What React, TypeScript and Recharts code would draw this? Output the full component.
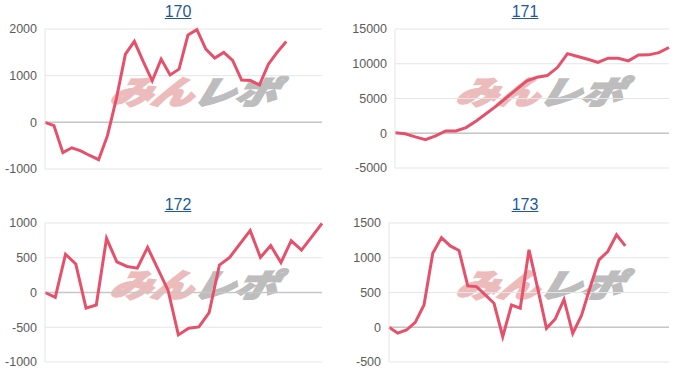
import React from 'react';
import { LineChart, Line, XAxis, YAxis, CartesianGrid, ReferenceLine } from 'recharts';

// coin difference per game step
const machines = ['170', '171', '172', '173'];

const diff170 = [
  0, -70, -650, -545, -610, -710, -800, -280, 520, 1460, 1735, 1300, 890, 1355,
  1015, 1140, 1870, 1985, 1570, 1376, 1497, 1325, 905, 895, 800, 1247, 1505, 1733,
];
const diff171 = [
  80, -80, -530, -930, -380, 330, 330, 810, 1770, 2830, 3930, 5140, 6340, 7530,
  8050, 8300, 9450, 11450, 11040, 10650, 10180, 10800, 10800, 10410, 11250, 11280,
  11600, 12340,
];
const diff172 = [
  0, -70, 550, 410, -225, -180, 780, 440, 375, 350, 650, 340, 30, -610, -515,
  -495, -290, 395, 505, 700, 890, 505, 675, 430, 745, 610, 800, 995,
];
const diff173 = [
  0, -85, -40, 70, 320, 1065, 1290, 1170, 1105, 595, 585, 465, 345, -135, 320,
  275, 1115, 555, -15, 120, 400, -90, 170, 580, 970, 1090, 1330, 1170,
];

const ticks170 = [-1000, 0, 1000, 2000];
const ticks171 = [-5000, 0, 5000, 10000, 15000];
const ticks172 = [-1000, -500, 0, 500, 1000];
const ticks173 = [-500, 0, 500, 1000, 1500];

// last x slot of each graph (some graphs leave room on the right)
const xMax = [31, 27, 27, 32];

type PanelProps = {
  title: string;
  values: number[];
  ticks: number[];
  maxX: number;
  left: number;
  top: number;
  width: number;
  height: number;
  axisW: number;
  margin: { top: number; right: number; bottom: number; left: number };
  titleX: number;
  titleY: number;
  wmX: number;
  wmY: number;
};

function Panel(p: PanelProps) {
  const data = p.values.map((v, i) => ({ i, v }));
  return (
    <div style={{ position: 'absolute', left: p.left, top: p.top, width: p.width, height: p.height }}>
      <a
        href="#"
        style={{
          position: 'absolute',
          left: p.titleX - 30,
          width: 60,
          top: p.titleY - 10,
          textAlign: 'center',
          color: '#1d5a98',
          fontFamily: 'Liberation Sans, Arial, sans-serif',
          fontSize: 16,
          lineHeight: '20px',
          textDecoration: 'underline',
        }}
      >
        {p.title}
      </a>
      <div
        style={{
          position: 'absolute',
          left: p.wmX - 83,
          top: p.wmY - 20,
          width: 128,
          fontFamily: 'Noto Sans CJK JP, sans-serif',
          fontWeight: 900,
          fontStyle: 'italic',
          fontSize: 32,
          lineHeight: '40px',
          whiteSpace: 'nowrap',
          transform: 'scaleX(1.3) skewX(-12deg)',
          transformOrigin: 'left center',
        }}
      >
        <span style={{ color: '#ecbcbc', WebkitTextStroke: '2px #ecbcbc' }}>みん</span>
        <span style={{ color: '#bdbdbd', WebkitTextStroke: '2px #bdbdbd' }}>レポ</span>
      </div>
      <div style={{ position: 'absolute', left: 0, top: 0 }}>
        <LineChart width={p.width} height={p.height} data={data} margin={p.margin}>
          <CartesianGrid vertical={false} stroke="#e5e5e5" />
          <XAxis dataKey="i" type="number" domain={[0, p.maxX]} hide />
          <YAxis
            type="number"
            width={p.axisW}
            domain={[p.ticks[0], p.ticks[p.ticks.length - 1]]}
            ticks={p.ticks}
            interval={0}
            axisLine={{ stroke: '#e5e5e5' }}
            tickLine={false}
            tick={{ fill: '#5c5c5c', fontSize: 12.5, fontFamily: 'Liberation Sans, Arial, sans-serif' }}
          />
          <ReferenceLine y={0} stroke="#c6c6c6" strokeWidth={1.5} />
          <Line
            type="linear"
            dataKey="v"
            stroke="#e5506a"
            strokeWidth={3}
            dot={false}
            isAnimationActive={false}
          />
        </LineChart>
      </div>
    </div>
  );
}

export default function App() {
  return (
    <div style={{ position: 'absolute', left: 0, top: 0, width: 700, height: 386, background: '#fff' }}>
      <Panel
        title={machines[0]}
        values={diff170}
        ticks={ticks170}
        maxX={xMax[0]}
        left={0}
        top={0}
        width={340}
        height={190}
        axisW={45}
        margin={{ top: 29, right: 18, bottom: 21, left: 0 }}
        titleX={178}
        titleY={12}
        wmX={195}
        wmY={90}
      />
      <Panel
        title={machines[1]}
        values={diff171}
        ticks={ticks171}
        maxX={xMax[1]}
        left={340}
        top={0}
        width={360}
        height={190}
        axisW={55}
        margin={{ top: 29, right: 31, bottom: 22, left: 0 }}
        titleX={185}
        titleY={12}
        wmX={201}
        wmY={90}
      />
      <Panel
        title={machines[2]}
        values={diff172}
        ticks={ticks172}
        maxX={xMax[2]}
        left={0}
        top={190}
        width={340}
        height={196}
        axisW={45}
        margin={{ top: 33, right: 18, bottom: 24, left: 0 }}
        titleX={178}
        titleY={15}
        wmX={195}
        wmY={93}
      />
      <Panel
        title={machines[3]}
        values={diff173}
        ticks={ticks173}
        maxX={xMax[3]}
        left={340}
        top={190}
        width={360}
        height={196}
        axisW={49}
        margin={{ top: 33, right: 31, bottom: 24, left: 0 }}
        titleX={185}
        titleY={15}
        wmX={201}
        wmY={93}
      />
    </div>
  );
}
